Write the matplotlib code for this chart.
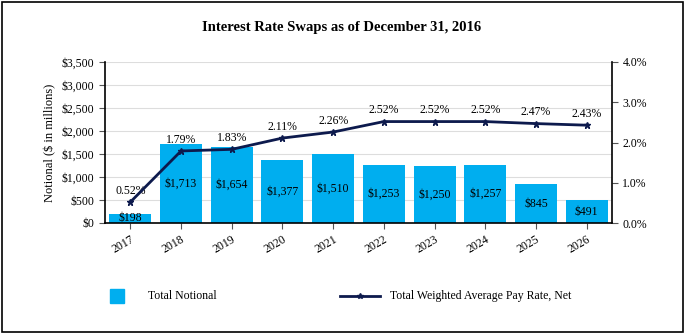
import matplotlib
matplotlib.use('Agg')
import matplotlib.pyplot as plt
from matplotlib.patches import Rectangle
from matplotlib.lines import Line2D

plt.rcParams['font.family'] = ['Liberation Serif', 'DejaVu Serif']

years = ['2017', '2018', '2019', '2020', '2021', '2022', '2023', '2024', '2025', '2026']
notional = [198, 1713, 1654, 1377, 1510, 1253, 1250, 1257, 845, 491]
pay_rate = [0.52, 1.79, 1.83, 2.11, 2.26, 2.52, 2.52, 2.52, 2.47, 2.43]

bar_color = '#00aeef'
line_color = '#0d1a4d'

fig = plt.figure(figsize=(6.84, 3.33), dpi=100)
ax = fig.add_axes([105 / 684, 1 - 223 / 333, (612 - 105) / 684, (223 - 62) / 333])
x = list(range(len(years)))

ax.bar(x, notional, width=0.83, color=bar_color, zorder=2)
for i, v in enumerate(notional):
    ax.text(i, v / 2, '${:,}'.format(v), ha='center', va='center', fontsize=8.5, zorder=4)

ax.set_xlim(-0.5, len(years) - 0.5)
ax.set_ylim(0, 3500)
ax.set_yticks(range(0, 3501, 500))
ax.set_yticklabels(['${:,}'.format(t) for t in range(0, 3501, 500)], fontsize=8.5)
ax.set_xticks(x)
ax.set_xticklabels(years, rotation=30, fontsize=8.5, ha='right', rotation_mode='anchor')
ax.set_ylabel('Notional ($ in millions)', fontsize=9)
ax.grid(axis='y', color='#dddddd', linewidth=0.8, zorder=0)
ax.set_axisbelow(True)
ax.spines['top'].set_visible(False)
ax.spines['right'].set_visible(False)
ax.spines['left'].set_linewidth(1.2)
ax.spines['bottom'].set_linewidth(1.2)
ax.tick_params(axis='both', length=4, color='#555555')

ax2 = ax.twinx()
ax2.plot(x, pay_rate, color=line_color, linewidth=2, marker='*', markersize=5, zorder=5)
for i, v in enumerate(pay_rate):
    ax2.text(i, v + 0.13, '{:.2f}%'.format(v), ha='center', va='bottom', fontsize=8.5)
ax2.set_ylim(0, 4.0)
ax2.set_yticks([0, 1, 2, 3, 4])
ax2.set_yticklabels(['{:.1f}%'.format(t) for t in [0, 1, 2, 3, 4]], fontsize=8.5)
ax2.spines['top'].set_visible(False)
ax2.spines['left'].set_visible(False)
ax2.spines['bottom'].set_visible(False)
ax2.spines['right'].set_linewidth(1.2)
ax2.tick_params(axis='y', length=4, color='#555555')

fig.text(342 / 684, 1 - 27 / 333, 'Interest Rate Swaps as of December 31, 2016',
         ha='center', va='center', fontsize=10.5, fontweight='bold')

# legend
fig.patches.append(Rectangle((110 / 684, 1 - 303 / 333), 14 / 684, 14 / 333,
                             transform=fig.transFigure, color=bar_color))
fig.text(148 / 684, 1 - 296 / 333, 'Total Notional', va='center', fontsize=8.5)
fig.lines.append(Line2D([340 / 684, 380 / 684], [1 - 296 / 333, 1 - 296 / 333],
                        transform=fig.transFigure, color=line_color, linewidth=2,
                        marker='*', markersize=4, markevery=[1]))
fig.lines[-1].set_xdata([340 / 684, 360 / 684, 380 / 684])
fig.lines[-1].set_ydata([1 - 296 / 333] * 3)
fig.text(390 / 684, 1 - 296 / 333, 'Total Weighted Average Pay Rate, Net', va='center', fontsize=8.5)

# outer border
fig.patches.append(Rectangle((1.5 / 684, 1.5 / 333), 681 / 684, 330 / 333,
                             transform=fig.transFigure, fill=False, edgecolor='black', linewidth=1.2))

fig.savefig('out.png', dpi=100)
